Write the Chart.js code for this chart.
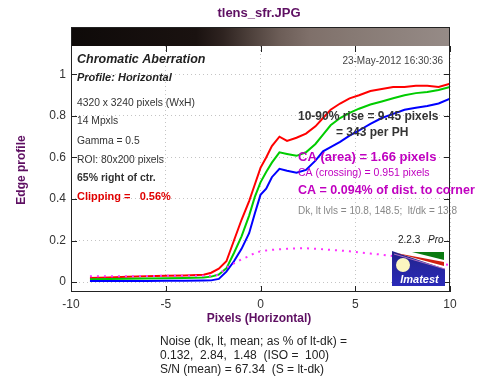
<!DOCTYPE html>
<html lang="en">
<head>
  <meta charset="UTF-8">
  <title>tlens_sfr.JPG – Chromatic Aberration</title>
  <script src="https://cdn.jsdelivr.net/npm/chart.js"></script>
  <style>
    html, body { margin: 0; padding: 0; background: #fff; }
    #wrap { width: 500px; height: 384px; }
  </style>
</head>
<body>
<div id="wrap"><canvas id="edgeChart" width="500" height="384"></canvas></div>

<script>
// edge profile samples (pixels from edge centre)
const xs      = [-9, -8, -7, -6, -5, -4, -3, -2.6, -2.2, -1.8, -1.4, -1.0, -0.6, -0.3, 0, 0.3, 0.6, 1.0, 1.4, 1.9, 2.4, 2.9, 3.3, 3.7, 4.2, 4.7, 5.2, 5.8, 6.4, 7.0, 7.6, 8.2, 8.8, 9.4, 10];
const red     = [0.02, 0.022, 0.025, 0.028, 0.03, 0.032, 0.035, 0.045, 0.064, 0.1, 0.2, 0.3, 0.39, 0.47, 0.55, 0.6, 0.655, 0.70, 0.68, 0.695, 0.715, 0.75, 0.79, 0.83, 0.86, 0.885, 0.90, 0.92, 0.93, 0.94, 0.94, 0.945, 0.945, 0.94, 0.955];
const green   = [0.014, 0.015, 0.016, 0.017, 0.018, 0.02, 0.022, 0.026, 0.036, 0.066, 0.14, 0.22, 0.32, 0.41, 0.48, 0.53, 0.575, 0.625, 0.617, 0.608, 0.625, 0.665, 0.71, 0.755, 0.79, 0.815, 0.835, 0.855, 0.87, 0.885, 0.9, 0.91, 0.915, 0.925, 0.94];
const blue    = [0.005, 0.005, 0.005, 0.005, 0.006, 0.006, 0.007, 0.008, 0.015, 0.05, 0.1, 0.16, 0.235, 0.33, 0.42, 0.45, 0.505, 0.545, 0.536, 0.527, 0.54, 0.585, 0.63, 0.65, 0.675, 0.705, 0.73, 0.762, 0.79, 0.81, 0.83, 0.84, 0.848, 0.86, 0.883];
const caDiff  = [0.028, 0.028, 0.028, 0.029, 0.03, 0.03, 0.03, 0.03, 0.035, 0.07, 0.09, 0.11, 0.125, 0.14, 0.148, 0.152, 0.155, 0.158, 0.16, 0.162, 0.163, 0.16, 0.158, 0.155, 0.152, 0.148, 0.143, 0.137, 0.132, 0.125, 0.118, 0.11, 0.1, 0.09, 0.082];
const yTicks  = [0, 0.2, 0.4, 0.6, 0.8, 1];
const xTicks  = [-10, -5, 0, 5, 10];

const purple = '#5e0f62';
const FONT = "Arial, 'Liberation Sans', sans-serif";

function pts(ys) {
  return xs.map((x, i) => ({ x: x, y: ys[i] }));
}

function txt(ctx, s, x, y, font, color, align) {
  ctx.font = font;
  ctx.fillStyle = color;
  ctx.textAlign = align || 'left';
  ctx.textBaseline = 'middle';
  ctx.fillText(s, x, y);
}

const decor = {
  id: 'decor',
  afterDraw(chart) {
    const ctx = chart.ctx;
    const a = chart.chartArea;
    const xs_ = chart.scales.x, ys_ = chart.scales.y;
    const top = 27;
    ctx.save();

    // grey-level strip above the plot
    const g = ctx.createLinearGradient(a.left, 0, a.right, 0);
    g.addColorStop(0, '#0e0a09');
    g.addColorStop(0.33, '#1a1210');
    g.addColorStop(0.40, '#2e2320');
    g.addColorStop(0.47, '#4c3f3a');
    g.addColorStop(0.55, '#6c5d57');
    g.addColorStop(0.63, '#7f706a');
    g.addColorStop(0.75, '#877a74');
    g.addColorStop(1, '#968b87');
    ctx.fillStyle = g;
    ctx.fillRect(a.left, top, a.right - a.left, a.top - top);

    // frame
    ctx.strokeStyle = '#222';
    ctx.lineWidth = 1;
    ctx.strokeRect(a.left + 0.5, top + 0.5, a.right - a.left - 1, a.bottom - top - 1);

    // inward ticks
    ctx.beginPath();
    xTicks.forEach(v => {
      const px = Math.round(xs_.getPixelForValue(v)) + 0.5;
      ctx.moveTo(px, a.top); ctx.lineTo(px, a.top + 6);
      ctx.moveTo(px, a.bottom); ctx.lineTo(px, a.bottom - 6);
    });
    yTicks.forEach(v => {
      const py = Math.round(ys_.getPixelForValue(v)) + 0.5;
      ctx.moveTo(a.left, py); ctx.lineTo(a.left + 6, py);
      ctx.moveTo(a.right, py); ctx.lineTo(a.right - 6, py);
    });
    ctx.stroke();

    // titles
    txt(ctx, 'tlens_sfr.JPG', 259, 13, 'bold 13px ' + FONT, purple, 'center');
    txt(ctx, 'Pixels (Horizontal)', 259, 319, 'bold 12px ' + FONT, purple, 'center');
    ctx.save();
    ctx.translate(22, 170);
    ctx.rotate(-Math.PI / 2);
    txt(ctx, 'Edge profile', 0, 0, 'bold 12px ' + FONT, purple, 'center');
    ctx.restore();

    // left info block
    txt(ctx, 'Chromatic Aberration', 77, 60, 'italic bold 12.5px ' + FONT, '#222');
    txt(ctx, 'Profile: Horizontal', 77, 78, 'italic bold 11px ' + FONT, '#222');
    txt(ctx, '4320 x 3240 pixels (WxH)', 77, 103, '10.3px ' + FONT, '#333');
    txt(ctx, '14 Mpxls', 77, 121, '10.3px ' + FONT, '#333');
    txt(ctx, 'Gamma = 0.5', 77, 141, '10.3px ' + FONT, '#333');
    txt(ctx, 'ROI: 80x200 pixels', 77, 160, '10.3px ' + FONT, '#333');
    txt(ctx, '65% right of ctr.', 77, 178, 'bold 10.5px ' + FONT, '#333');
    txt(ctx, 'Clipping =   0.56%', 77, 197, 'bold 11px ' + FONT, '#e00000');
    txt(ctx, '23-May-2012 16:30:36', 443, 61, '10px ' + FONT, '#444', 'right');

    // results block
    txt(ctx, '10-90% rise = 9.45 pixels', 298, 117, 'bold 12px ' + FONT, '#333');
    txt(ctx, '= 343 per PH', 336, 133, 'bold 12px ' + FONT, '#333');
    txt(ctx, 'CA (area) = 1.66 pixels', 298, 157, 'bold 13px ' + FONT, '#c000c0');
    txt(ctx, 'CA (crossing) = 0.951 pixels', 298, 173, '10.5px ' + FONT, '#c000c0');
    txt(ctx, 'CA = 0.094% of dist. to corner', 298, 191, 'bold 12.5px ' + FONT, '#c000c0');
    txt(ctx, 'Dk, lt lvls = 10.8, 148.5;  lt/dk = 13.8', 298, 211, '10px ' + FONT, '#888');

    // version + logo
    txt(ctx, '2.2.3', 398, 240, '10px ' + FONT, '#222');
    txt(ctx, 'Pro', 428, 240, 'italic 10px ' + FONT, '#222');
    const L = 392, T = 251, W = 53, H = 35;
    const lg = ctx.createLinearGradient(L, T, L, T + H);
    lg.addColorStop(0, '#22228a');
    lg.addColorStop(1, '#2a2ab8');
    ctx.fillStyle = lg;
    ctx.fillRect(L, T, W, H);
    ctx.fillStyle = '#fff';
    ctx.beginPath();
    ctx.moveTo(L, T); ctx.lineTo(L + W, T); ctx.lineTo(L + W, T + 18); ctx.closePath();
    ctx.fill();
    ctx.fillStyle = '#0a7a10';
    ctx.beginPath();
    ctx.moveTo(L + 20, T + 1); ctx.lineTo(L + W - 1, T + 1); ctx.lineTo(L + W - 1, T + 9); ctx.closePath();
    ctx.fill();
    ctx.fillStyle = '#d02010';
    ctx.beginPath();
    ctx.moveTo(L + 4, T + 2); ctx.lineTo(L + W - 1, T + 11); ctx.lineTo(L + W - 1, T + 15); ctx.closePath();
    ctx.fill();
    ctx.strokeStyle = '#b070c0';
    ctx.beginPath();
    ctx.moveTo(L + 2, T + 3); ctx.lineTo(L + W, T + 18);
    ctx.stroke();
    ctx.fillStyle = '#fbf6c0';
    ctx.beginPath();
    ctx.arc(L + 11, T + 14, 7, 0, Math.PI * 2);
    ctx.fill();
    txt(ctx, 'Imatest', L + W / 2 + 1, T + 29, 'italic bold 11px ' + FONT, '#fff', 'center');

    // noise block under the plot
    txt(ctx, 'Noise (dk, lt, mean; as % of lt-dk) =', 160, 342, '12px ' + FONT, '#222');
    txt(ctx, '0.132,  2.84,  1.48  (ISO =  100)', 160, 356, '12px ' + FONT, '#222');
    txt(ctx, 'S/N (mean) = 67.34  (S = lt-dk)', 160, 370, '12px ' + FONT, '#222');

    ctx.restore();
  }
};

new Chart(document.getElementById('edgeChart'), {
  type: 'line',
  data: {
    datasets: [
      { label: 'CA', data: pts(caDiff), borderColor: '#ff30ff', borderWidth: 2, borderDash: [2, 5], pointRadius: 0 },
      { label: 'Blue', data: pts(blue), borderColor: '#0000ff', borderWidth: 2, pointRadius: 0 },
      { label: 'Green', data: pts(green), borderColor: '#00cc00', borderWidth: 2, pointRadius: 0 },
      { label: 'Red', data: pts(red), borderColor: '#ff0000', borderWidth: 2, pointRadius: 0 }
    ]
  },
  options: {
    responsive: false,
    animation: false,
    events: [],
    layout: { padding: { left: 0, top: 46, right: 50, bottom: 72 } },
    plugins: { legend: { display: false }, tooltip: { enabled: false } },
    scales: {
      x: {
        type: 'linear',
        min: -10, max: 10,
        afterFit(s) { s.height = 20; },
        afterBuildTicks(s) { s.ticks = xTicks.map(v => ({ value: v })); },
        grid: { color: '#c4c4c4', drawTicks: false },
        border: { display: false, dash: [1, 3] },
        ticks: { padding: 5, color: '#333', font: { family: FONT, size: 12 }, callback: v => String(v) }
      },
      y: {
        min: -0.048, max: 1.137,
        afterFit(s) { s.width = 71; },
        afterBuildTicks(s) { s.ticks = yTicks.map(v => ({ value: v })); },
        grid: { color: '#c4c4c4', drawTicks: false },
        border: { display: false, dash: [1, 3] },
        ticks: { padding: 5, color: '#333', font: { family: FONT, size: 12 }, callback: v => String(v) }
      }
    }
  },
  plugins: [decor]
});
</script>
</body>
</html>
